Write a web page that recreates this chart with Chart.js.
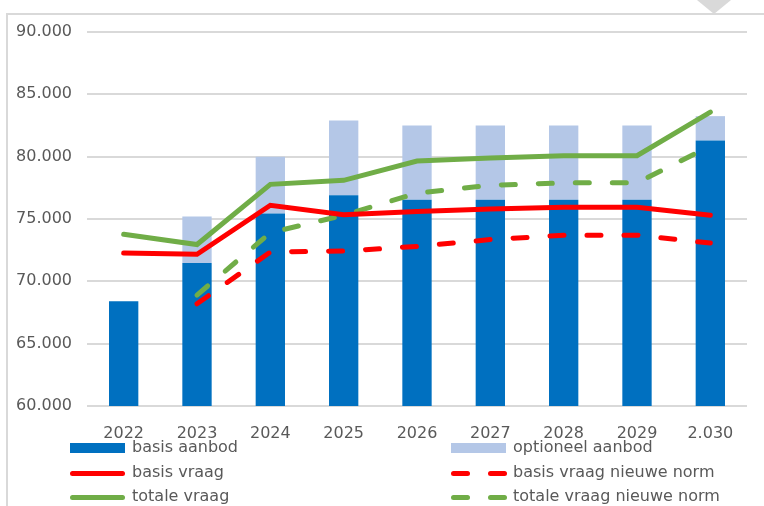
<!DOCTYPE html>
<html><head><meta charset="utf-8">
<script src="https://cdn.jsdelivr.net/npm/chart.js@4.4.0/dist/chart.umd.min.js"></script>
<style>
html,body{margin:0;padding:0;background:#fff;}
#wrap{position:relative;width:764px;height:506px;overflow:hidden;font-family:"DejaVu Sans",sans-serif;}
#frame{position:absolute;left:6px;top:13px;width:800px;height:600px;border-top:2px solid #d9d9d9;border-left:2px solid #d9d9d9;}
#tri{position:absolute;left:697px;top:0;width:0;height:0;border-left:17px solid transparent;border-right:17px solid transparent;border-top:14px solid #d9d9d9;}
canvas{position:absolute;left:0;top:0;}
.lg{position:absolute;height:20px;line-height:20px;font-size:16px;color:#595959;white-space:nowrap;}
.sw{position:absolute;}
</style>
</head><body>
<div id="wrap">
<div id="frame"></div>
<div id="tri"></div>
<canvas id="c" width="764" height="506"></canvas>
<div id="legend"></div>
</div>
<script>
const categories = ['2022','2023','2024','2025','2026','2027','2028','2029','2.030'];
const basisAanbod = [68400, 71470, 75450, 76900, 76550, 76550, 76550, 76550, 81300];
const optioneelAanbod = [0, 3730, 4550, 6000, 5950, 5950, 5950, 5950, 1950];
const basisVraag = [72270, 72170, 76100, 75350, 75600, 75800, 75950, 75950, 75300];
const totaleVraag = [73770, 72950, 77780, 78100, 79650, 79900, 80080, 80080, 83580];
const basisVraagNieuweNorm = [null, 68200, 72350, 72430, 72800, 73350, 73700, 73700, 73070];
const totaleVraagNieuweNorm = [null, 68900, 73900, 75300, 77080, 77700, 77900, 77900, 80850];
const yTicks = [60000, 65000, 70000, 75000, 80000, 85000, 90000];

const fmt = v => String(v).replace(/\B(?=(\d{3})+(?!\d))/g, '.');
const DARK='#0070C0', LIGHT='#B4C7E7', RED='#FF0000', GREEN='#70AD47';
const dash=[14,23];

new Chart(document.getElementById('c'), {
  data: {
    labels: categories,
    datasets: [
      {type:'bar', label:'basis aanbod', data: basisAanbod, backgroundColor: DARK, stack:'aanbod', order:10},
      {type:'bar', label:'optioneel aanbod', data: optioneelAanbod, backgroundColor: LIGHT, stack:'aanbod', order:10},
      {type:'line', label:'totale vraag nieuwe norm', data: totaleVraagNieuweNorm, borderColor: GREEN, borderWidth:5, borderDash:dash, borderCapStyle:'round', pointRadius:0, stack:'l4', order:4},
      {type:'line', label:'basis vraag nieuwe norm', data: basisVraagNieuweNorm, borderColor: RED, borderWidth:5, borderDash:dash, borderCapStyle:'round', pointRadius:0, stack:'l3', order:3},
      {type:'line', label:'totale vraag', data: totaleVraag, borderColor: GREEN, borderWidth:5, borderCapStyle:'round', pointRadius:0, stack:'l2', order:2},
      {type:'line', label:'basis vraag', data: basisVraag, borderColor: RED, borderWidth:5, borderCapStyle:'round', pointRadius:0, stack:'l1', order:1}
    ]
  },
  options: {
    responsive:false, animation:false,
    layout:{padding:{top:32,right:17,left:0,bottom:0}},
    datasets:{bar:{categoryPercentage:1, barPercentage:0.4}},
    plugins:{legend:{display:false}, tooltip:{enabled:false}},
    scales:{
      x:{stacked:true, grid:{display:false}, border:{display:false},
         ticks:{color:'#595959', font:{family:'DejaVu Sans', size:16}, padding:10, maxRotation:0},
         afterFit:s=>{s.height=100;}},
      y:{stacked:true, min:60000, max:90000,
         afterBuildTicks:s=>{s.ticks=yTicks.map(v=>({value:v}));},
         grid:{color:'#d9d9d9', lineWidth:2, drawTicks:false}, border:{display:false},
         ticks:{color:'#595959', font:{family:'DejaVu Sans', size:16}, padding:15, callback:v=>fmt(v)},
         afterFit:s=>{s.width=87;}}
    }
  }
});

const legendItems = [
  {label:'basis aanbod', kind:'box', color:DARK, x:70, y:448},
  {label:'optioneel aanbod', kind:'box', color:LIGHT, x:451, y:448},
  {label:'basis vraag', kind:'line', color:RED, x:70, y:473},
  {label:'basis vraag nieuwe norm', kind:'dash', color:RED, x:451, y:473},
  {label:'totale vraag', kind:'line', color:GREEN, x:70, y:497},
  {label:'totale vraag nieuwe norm', kind:'dash', color:GREEN, x:451, y:497}
];
const lg = document.getElementById('legend');
legendItems.forEach(it=>{
  if(it.kind==='box'){
    const d=document.createElement('div'); d.className='sw';
    d.style.cssText=`left:${it.x}px;top:${it.y-5}px;width:55px;height:10px;background:${it.color}`;
    lg.appendChild(d);
  } else if(it.kind==='line'){
    const d=document.createElement('div'); d.className='sw';
    d.style.cssText=`left:${it.x}px;top:${it.y-2.5}px;width:55px;height:5px;border-radius:2.5px;background:${it.color}`;
    lg.appendChild(d);
  } else {
    [0,37].forEach(o=>{
      const d=document.createElement('div'); d.className='sw';
      d.style.cssText=`left:${it.x+o}px;top:${it.y-2.5}px;width:19px;height:5px;border-radius:2.5px;background:${it.color}`;
      lg.appendChild(d);
    });
  }
  const t=document.createElement('div'); t.className='lg';
  t.textContent=it.label;
  t.style.left=(it.x+62)+'px'; t.style.top=(it.y-11)+'px';
  lg.appendChild(t);
});
</script>
</body></html>
